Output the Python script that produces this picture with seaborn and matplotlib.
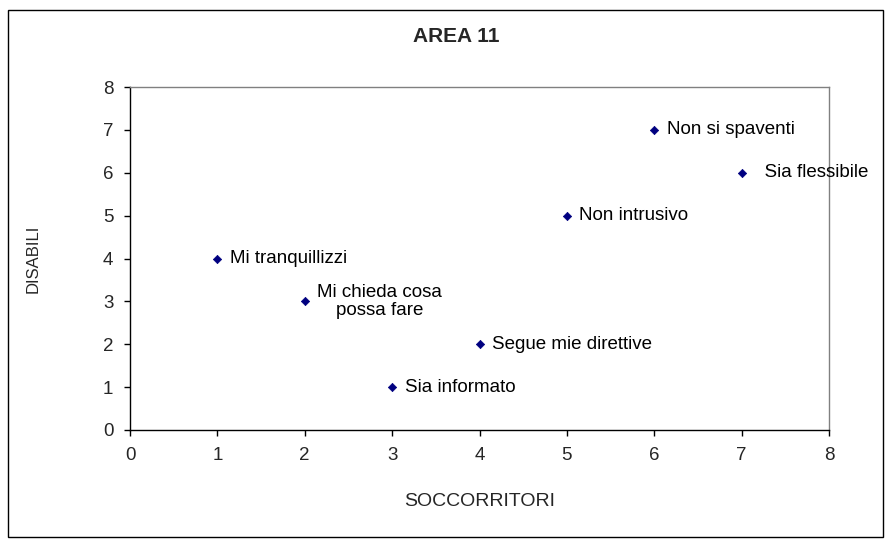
import matplotlib
matplotlib.use("Agg")
import matplotlib.pyplot as plt
import seaborn as sns
import pandas as pd

# dati del grafico
etichette = ["Mi tranquillizzi", "Mi chieda cosa\npossa fare", "Sia informato",
             "Segue mie direttive", "Non intrusivo", "Non si spaventi", "  Sia flessibile"]
soccorritori = [1, 2, 3, 4, 5, 6, 7]
disabili = [4, 3, 1, 2, 5, 7, 6]

df = pd.DataFrame({"SOCCORRITORI": soccorritori, "DISABILI": disabili, "voce": etichette})

sns.set_style("white")
plt.rcParams["font.family"] = ["Liberation Sans", "DejaVu Sans"]

fig = plt.figure(figsize=(8.91, 5.44), dpi=100)
ax = fig.add_axes([130 / 891, 1 - 430 / 544, (829 - 130) / 891, (430 - 87) / 544])

sns.scatterplot(data=df, x="SOCCORRITORI", y="DISABILI", ax=ax, marker="D",
                color="#000080", s=18, edgecolor="#000080", linewidth=0.5, zorder=3)

for _, r in df.iterrows():
    ax.annotate(r["voce"], (r["SOCCORRITORI"], r["DISABILI"]), xytext=(9, 0),
                textcoords="offset points", ha="left", va="center",
                multialignment="center", fontsize=13.5, color="black",
                linespacing=1.05, annotation_clip=False)

ax.set_xlim(0, 8)
ax.set_ylim(0, 8)
ax.set_xticks(range(0, 9))
ax.set_yticks(range(0, 9))
ax.tick_params(axis="both", direction="out", length=4, width=1, color="black",
               labelsize=13.5, pad=8, left=True, bottom=True)

for lato in ["top", "right"]:
    ax.spines[lato].set_color("#808080")
    ax.spines[lato].set_linewidth(1)
for lato in ["left", "bottom"]:
    ax.spines[lato].set_color("black")
    ax.spines[lato].set_linewidth(1)

ax.set_xlabel("SOCCORRITORI", fontsize=14)
ax.set_ylabel("DISABILI", fontsize=12)
ax.xaxis.set_label_coords(0.5, -0.185)
ax.yaxis.set_label_coords(-0.128, 0.5)

fig.text(456 / 891, 1 - 37 / 544, "AREA 11", ha="center", va="center",
         fontsize=15, fontweight="bold")

# cornice esterna
bordo = plt.Rectangle((8 / 891, 1 - 537 / 544), (883 - 8) / 891, (537 - 10) / 544,
                      transform=fig.transFigure, fill=False, edgecolor="black", linewidth=1)
fig.patches.append(bordo)

fig.savefig("out.png", dpi=100, facecolor="white")
